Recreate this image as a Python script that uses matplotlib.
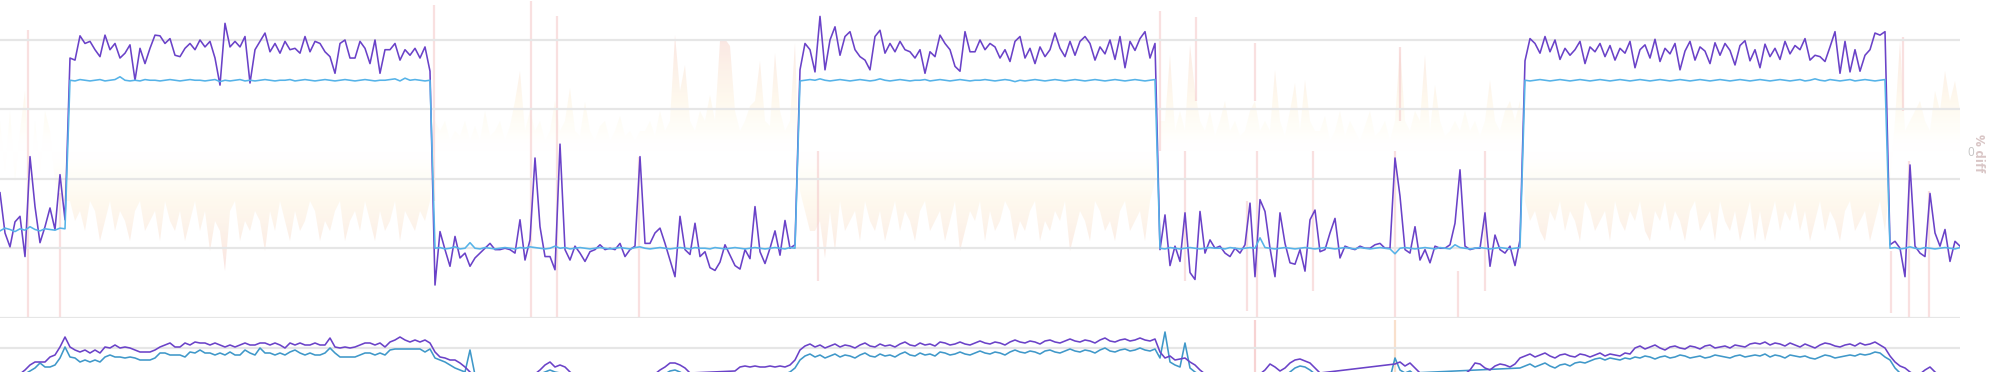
import numpy as np
import matplotlib.pyplot as plt
from matplotlib.colors import LinearSegmentedColormap

plt.rcParams['font.family'] = ['Open Sans', 'DejaVu Sans']

# one sample every ~5 px of the reference (393 samples)
# top panel: measured value (purple) and expected level (blue)
actual = [
    180, 122, 102, 138, 146, 88, 232, 160, 108, 131, 158, 127, 206, 141,
    374, 371, 406, 395, 398, 386, 376, 407, 386, 395, 374, 381, 393, 342, 388, 366, 388, 407, 406, 395,
    402, 378, 376, 388, 395, 386, 400, 390, 398, 374, 335, 424, 390, 398, 390, 405, 338, 386, 398, 410,
    383, 395, 381, 398, 386, 388, 381, 405, 383, 398, 395, 383, 376, 352, 395, 400, 374, 374, 398, 388,
    366, 400, 352, 386, 386, 395, 371, 386, 378, 388, 374, 390, 355,
    47, 124, 98, 74, 117, 86, 93, 74, 86, 93, 100, 107, 98, 98, 100, 98, 93, 141, 83, 112,
    230, 131, 88, 88, 69, 250, 98, 83, 103, 93, 81, 95, 98, 105, 98, 100, 98, 107, 88, 98,
    103, 232, 107, 107, 122, 129, 107, 83, 59, 146, 98, 91, 136, 88, 95, 72, 68, 80, 105, 90,
    75, 70, 98, 85, 160, 95, 78, 100, 125, 90, 140, 100, 105,
    357, 395, 386, 354, 434, 357, 400, 419, 378, 405, 412, 386, 376, 371, 357, 405, 414, 381, 395, 383,
    398, 386, 383, 374, 386, 352, 383, 376, 407, 395, 386, 362, 355, 412, 383, 383, 400, 386, 395, 390,
    374, 386, 369, 398, 405, 374, 388, 366, 390, 376, 386, 410, 388, 376, 398, 378, 398, 405, 395, 371,
    390, 380, 400, 372, 405, 360, 398, 385, 402, 412, 374, 395,
    98, 148, 75, 103, 81, 151, 65, 55, 153, 93, 112, 100, 103, 93, 88, 100, 93, 105, 165, 59,
    170, 153, 100, 59, 151, 107, 79, 77, 98, 67, 141, 155, 95, 98, 122, 143, 86, 103, 100, 98,
    103, 100, 100, 105, 107, 100, 100, 230, 175, 98, 93, 131, 83, 98, 79, 103, 100, 100, 105, 136,
    213, 103, 98, 100, 100, 151, 74, 119, 98, 93, 103, 75, 112,
    370, 402, 395, 381, 405, 383, 400, 372, 388, 378, 386, 398, 366, 390, 383, 395, 376, 392, 371, 388,
    381, 398, 360, 386, 393, 374, 401, 369, 388, 380, 395, 357, 384, 398, 371, 390, 384, 366, 396, 378,
    395, 385, 364, 392, 399, 370, 386, 360, 394, 376, 388, 372, 398, 380, 392,
    386, 402, 371, 378, 376, 369, 390, 412, 352, 398, 354, 386, 355, 378, 386, 410, 407, 412,
    105, 110, 100, 59, 220, 103, 93, 88, 179, 122, 103, 127, 81, 110, 103,
]

expected = [
    125, 129, 127, 124, 128, 126, 131, 127, 125, 128, 127, 126, 129, 128,
    342, 341, 343, 342, 341, 342, 343, 341, 342, 343, 347, 342, 341, 342, 341, 343, 342, 342, 341, 342,
    343, 342, 341, 342, 343, 342, 342, 341, 342, 343, 340, 342, 341, 342, 343, 341, 342, 341, 342, 343,
    342, 341, 342, 342, 343, 341, 342, 343, 342, 341, 342, 343, 342, 341, 342, 343, 342, 341, 342, 343,
    342, 341, 342, 342, 343, 344, 341, 345, 342, 343, 342, 341, 342,
    100, 101, 99, 100, 102, 99, 100, 108, 100, 99, 101, 100, 99, 100, 101, 100, 99, 101, 100, 102,
    101, 100, 99, 100, 103, 100, 101, 99, 100, 101, 100, 99, 100, 101, 100, 99, 100, 101, 100, 99,
    101, 102, 100, 99, 100, 101, 100, 99, 100, 101, 100, 99, 101, 100, 100, 99, 101, 100, 99, 100,
    101, 100, 99, 100, 101, 100, 99, 100, 101, 100, 99, 101, 100,
    341, 342, 343, 342, 344, 342, 341, 342, 343, 342, 341, 342, 343, 342, 341, 342, 344, 342, 341, 342,
    343, 342, 341, 342, 342, 343, 341, 342, 343, 342, 341, 342, 343, 342, 341, 342, 342, 343, 342, 341,
    342, 343, 342, 340, 342, 341, 342, 343, 342, 341, 342, 343, 342, 341, 342, 343, 342, 341, 342, 343,
    342, 341, 342, 343, 342, 341, 342, 343, 342, 341, 342, 343,
    100, 99, 101, 100, 99, 100, 101, 100, 99, 100, 101, 100, 100, 99, 101, 100, 99, 100, 101, 100,
    115, 101, 100, 99, 100, 101, 100, 99, 100, 101, 100, 99, 100, 101, 100, 99, 100, 101, 100, 99,
    101, 100, 99, 100, 101, 100, 99, 92, 100, 101, 100, 99, 100, 101, 100, 99, 101, 100, 99, 105,
    101, 100, 99, 100, 101, 100, 99, 100, 101, 100, 99, 100, 101,
    342, 341, 342, 343, 342, 341, 342, 343, 342, 341, 342, 343, 342, 341, 342, 343, 342, 341, 342, 343,
    342, 341, 342, 343, 342, 341, 342, 343, 342, 341, 342, 343, 342, 341, 342, 343, 342, 341, 342, 343,
    342, 341, 342, 343, 342, 341, 342, 343, 342, 341, 342, 343, 342, 341, 342, 343,
    341, 342, 344, 342, 341, 343, 342, 341, 342, 343, 341, 342, 343, 342, 341, 342, 343,
    100, 101, 99, 100, 102, 100, 99, 101, 100, 99, 100, 101, 100, 99, 101,
]

# right axis: % diff (area)
pct_diff = [
    3, -2, 4, -3, 2, 6, -4, 3, -2, 4, 2, -3, -5, -5,
    -5, -7, -6, -8, -5, -6, -9, -7, -5, -8, -6, -7, -9, -6, -5, -8, -7, -6, -9, -5,
    -7, -8, -6, -9, -7, -5, -8, -6, -10, -7, -8, -12, -6, -5, -9, -7, -8, -6, -7, -10,
    -6, -8, -5, -7, -9, -6, -8, -7, -5, -6, -9, -7, -8, -6, -5, -9, -7, -6, -8, -5,
    -7, -9, -6, -8, -7, -5, -9, -6, -7, -8, -6, -7, -5,
    3, 2, 3, 1, 2, 1.5, 3, 1, 2.5, 1, 4, 1.5, 2, 3, 1, 2.5, 5, 8, 2, 4,
    2, 3, 1, 2, 5, 2, 3, 6.3, 2, 1.5, 4.9, 2, 1, 2.5, 3, 1, 2, 3.5, 1.5, 2,
    1, 2, 2, 3, 1.5, 4, 2, 3, 11.6, 6, 8.6, 3, 2, 4, 3, 5.6, 3, 11, 11.2, 10.5,
    4, 2, 3, 4.5, 5, 9, 3, 2.5, 9.8, 4, 2, 3, 10.8,
    -4, -6, -8, -8, -7, -10.7, -6, -10, -5, -8, -7, -6, -9, -5, -7, -8, -6, -9, -7, -5,
    -8, -6, -7, -9, -6, -5, -8, -7, -6, -9, -7, -5, -10, -8, -6, -7, -5, -9, -6, -8,
    -7, -5, -6, -9, -7, -8, -6, -5, -9, -7, -8, -6, -7, -5, -10, -8, -6, -7, -9, -5,
    -6, -8, -7, -9, -6, -5, -8, -7, -6, -9, -5, -3,
    3, 3, 9.6, 2, 4, 2, 10.6, 6, 3, 2, 4, 1.5, 3, 5, 2, 3, 1.5, 2, 4, 5,
    2, 3, 2, 8.1, 3, 1.5, 4, 6.8, 2, 7.1, 3, 2, 2, 3.5, 1, 2, 4, 1.5, 3, 2,
    1, 2.5, 4, 1.5, 2, 3, 1, 3, 10.4, 3, 2, 4, 3, 9.6, 2, 6.6, 3, 1.5, 2, 3,
    2, 4, 2, 3, 1.5, 3, 7.1, 3, 2, 4, 5, 3, 5,
    -5, -7, -6, -8, -9, -6, -7, -5, -8, -6, -7, -9, -5, -6, -8, -7, -6, -9, -5, -7,
    -8, -6, -7, -5, -8, -9, -6, -7, -5, -8, -6, -7, -9, -6, -5, -8, -7, -6, -9, -5,
    -7, -8, -6, -9, -7, -5, -9, -6, -9, -7, -5, -8, -6, -7, -5, -8, -6, -9, -7, -5,
    -8, -6, -7, -9, -6, -5, -8, -7, -6, -9, -7, -5, -8,
    -3, 3, 11, 2, 3, 4, 5, 3, 2, 6, 4, 8, 5, 7, 4,
]

# large % diff outliers, drawn as thin bars (sample index, top, bottom)
spike_idx = [5.6, 12, 86.8, 106.2, 111.4, 127.8, 163.6, 232, 237, 239.2,
             249.4, 251, 251.4, 262.6, 279, 280, 291.6, 297, 378.2, 380.6,
             381.8, 385.8]
spike_hi = [12.1, -4.2, 14.6, 15, 13.5, -0.6, 0, 14, 0, 13.4,
            -5, 10.8, 0, 0, 0, 10.4, -12, 0, -10, 11.4,
            -1, -4]
spike_lo = [-16.6, -16.6, -5, -16.6, -16.6, -16.6, -13, 0, -13, 5,
            -16, 5, -16.6, -14, -16.6, 3, -16.6, -14, -16.2, 4,
            -16.6, -16.6]

# lower panel
lower_actual = [
    38, 40, 42, 44, 46, 50, 55, 58, 58, 58, 63, 65, 73, 83,
    73, 70, 68, 70, 67, 70, 67, 73, 72, 75, 72, 73, 72, 70, 68, 68, 68, 70, 73, 75,
    77, 73, 73, 77, 75, 78, 77, 77, 75, 77, 75, 73, 75, 73, 75, 77, 75, 75, 77, 77,
    75, 77, 75, 72, 77, 75, 77, 75, 75, 77, 75, 75, 82, 73, 72, 73, 72, 73, 75, 77,
    77, 75, 77, 73, 78, 80, 83, 80, 78, 80, 78, 80, 77,
    68, 63, 62, 60, 60, 57, 53, 48, 44, 42, 40, 38, 37, 36, 38, 40, 39, 37, 41, 44,
    46, 50, 55, 58, 53, 55, 53, 48, 44, 41, 39, 38, 37, 38, 40, 39, 38, 37, 36, 38,
    40, 42, 41, 43, 46, 50, 53, 57, 57, 55, 52, 47, 43, 41, 40, 39, 41, 43, 45, 47,
    49, 53, 54, 53, 54, 53, 53, 54, 53, 54, 53, 55, 60,
    70, 74, 76, 73, 75, 72, 74, 76, 73, 75, 74, 72, 75, 77, 74, 73, 76, 74, 75, 73,
    76, 78, 75, 74, 77, 75, 76, 74, 78, 77, 75, 76, 78, 76, 75, 77, 79, 77, 76, 78,
    77, 75, 78, 80, 78, 77, 79, 78, 76, 79, 80, 78, 77, 79, 81, 79, 78, 80, 79, 77,
    80, 82, 79, 78, 80, 81, 79, 80, 82, 80, 79, 81,
    68, 62, 64, 60, 61, 62, 58, 55, 50, 46, 43, 41, 40, 38, 37, 36, 37, 38, 36, 42,
    46, 50, 56, 53, 49, 52, 57, 60, 61, 59, 57, 52, 47, 44, 42, 40, 39, 38, 37, 36,
    37, 38, 39, 40, 42, 44, 47, 56, 58, 54, 57, 52, 47, 44, 42, 40, 39, 38, 39, 41,
    43, 46, 50, 57, 56, 52, 50, 54, 56, 55, 53, 56, 62,
    64, 66, 63, 65, 67, 64, 62, 65, 66, 64, 63, 66, 65, 63, 65, 67, 64, 66, 65, 64,
    67, 66, 72, 74, 71, 73, 75, 72, 70, 73, 74, 72, 71, 74, 73, 71, 74, 75, 72, 73,
    74, 72, 75, 74, 73, 76, 77, 76, 78, 75, 77, 76, 74, 77, 75, 73, 76, 74, 72, 75,
    77, 76, 74, 73, 75, 76, 74, 77, 75, 76, 78, 75, 72,
    64, 58, 54, 52, 48, 45, 46, 50, 53, 48, 44, 42, 41, 40, 40,
]

lower_expected = [
    35, 37, 39, 41, 43, 46, 49, 52, 57, 53, 53, 55, 62, 73,
    63, 62, 58, 60, 58, 60, 58, 63, 65, 63, 63, 62, 63, 62, 60, 60, 60, 62, 67, 67,
    65, 65, 65, 63, 68, 67, 70, 67, 67, 65, 67, 65, 68, 65, 65, 70, 67, 65, 72, 67,
    67, 65, 67, 65, 68, 70, 67, 65, 67, 65, 65, 67, 72, 67, 63, 63, 63, 63, 65, 67,
    67, 65, 67, 65, 70, 71, 71, 71, 71, 71, 71, 68, 71,
    62, 60, 58, 55, 52, 50, 48, 70, 45, 42, 40, 38, 36, 35, 34, 35, 36, 38, 40, 42,
    44, 46, 48, 50, 48, 47, 44, 42, 40, 38, 36, 35, 34, 35, 36, 35, 34, 33, 34, 35,
    36, 37, 38, 40, 42, 44, 46, 49, 50, 48, 45, 42, 40, 38, 37, 36, 37, 39, 41, 43,
    44, 45, 46, 45, 46, 47, 46, 45, 46, 47, 46, 48, 52,
    60, 64, 66, 63, 65, 62, 64, 66, 63, 65, 64, 62, 65, 67, 64, 63, 66, 64, 65, 63,
    66, 68, 65, 64, 67, 65, 66, 64, 68, 67, 65, 66, 68, 66, 65, 67, 69, 67, 66, 68,
    67, 65, 68, 70, 68, 67, 69, 68, 66, 69, 70, 68, 67, 69, 71, 69, 68, 70, 69, 67,
    70, 72, 69, 68, 70, 71, 69, 70, 72, 70, 69, 71,
    62, 88, 58, 55, 53, 77, 52, 48, 45, 42, 40, 38, 37, 36, 35, 34, 35, 36, 35, 37,
    40, 44, 47, 45, 42, 44, 48, 52, 54, 53, 50, 46, 42, 39, 37, 36, 35, 34, 33, 34,
    35, 34, 33, 34, 36, 38, 42, 62, 50, 47, 49, 45, 41, 38, 36, 35, 34, 33, 34, 36,
    38, 40, 43, 47, 46, 44, 42, 45, 47, 46, 45, 47, 52,
    54, 56, 53, 55, 57, 54, 52, 55, 56, 54, 57, 58, 57, 59, 61, 62, 60, 62, 61, 60,
    62, 61, 63, 62, 64, 63, 61, 63, 64, 62, 63, 65, 64, 62, 63, 64, 62, 63, 65, 64,
    63, 62, 64, 65, 63, 64, 65, 64, 66, 63, 65, 64, 62, 65, 64, 63, 64, 62, 61, 63,
    65, 64, 62, 63, 64, 65, 64, 66, 65, 66, 68, 67, 63,
    60, 52, 47, 44, 42, 40, 39, 40, 41, 40, 38, 37, 36, 36, 35,
]

# faint diff marks in the lower panel (sample index)
lower_spikes = [251, 279]
lower_spike_colors = ['#f7d3d3', '#f9e0cc']

n = len(actual)
for name, series in [('expected', expected), ('pct_diff', pct_diff),
                     ('lower_actual', lower_actual), ('lower_expected', lower_expected)]:
    if len(series) != n:
        raise ValueError(f'{name}: {len(series)} != {n}')

t = np.arange(n)
purple = '#6a42c8'
light_blue = '#56b3e8'
grid_c = '#e6e6e6'

fig = plt.figure(figsize=(20, 3.72), dpi=100)

# ---- top panel
ax = fig.add_axes([0, 1 - 318 / 372, 0.98, 318 / 372])
ax2 = ax.twinx()
ax.set_zorder(ax2.get_zorder() + 1)
ax.patch.set_visible(False)

lo, hi = -16.7, 15.1
diff_cmap = LinearSegmentedColormap.from_list('diff', [
    (0.0, (1.0, 1.0, 1.0, 0.0)),
    (0.15, (1.0, 0.985, 0.92, 0.3)),
    (0.35, (0.995, 0.95, 0.86, 0.45)),
    (0.6, (0.985, 0.9, 0.84, 0.55)),
    (1.0, (0.965, 0.79, 0.79, 0.65)),
])
levels = np.linspace(lo, hi, 400)
grad = diff_cmap(np.clip(np.abs(levels) / 14, 0, 1))[:, None, :]
im = ax2.imshow(grad, aspect='auto', origin='lower', extent=[0, n - 1, lo, hi],
                interpolation='bilinear', zorder=1)
area = ax2.fill_between(t, 0, pct_diff, facecolor='none', edgecolor='none')
im.set_clip_path(area.get_paths()[0], transform=ax2.transData)
ax2.vlines(spike_idx, spike_lo, spike_hi, colors='#f5cccc', lw=1.6, alpha=0.6, zorder=2)
ax2.set_xlim(0, n - 1)
ax2.set_ylim(lo, hi)
ax2.set_yticks([0])
ax2.tick_params(axis='y', length=0, pad=5, labelsize=8.5, labelcolor='#c4c4c4')
ax2.set_ylabel('% diff', rotation=270, color='#d9c6c6', fontsize=9.5, fontweight='bold')
ax2.yaxis.set_label_coords(1.0128, 0.52)

ax.plot(t, actual, color=purple, lw=1.15, zorder=3)
ax.plot(t, expected, color=light_blue, lw=1.15, zorder=4)
ax.set_xlim(0, n - 1)
ax.set_ylim(-0.5, 457.6)
ax.set_yticks([0, 100, 200, 300, 400])
ax.set_yticklabels([])
ax.set_xticks([])
ax.tick_params(length=0)
ax.grid(axis='y', color=grid_c, lw=1.6)

for a in (ax, ax2):
    for s in a.spines.values():
        s.set_visible(False)

# ---- lower panel (cut off by the figure edge)
ax3 = fig.add_axes([0, (372 - 420) / 372, 0.98, 100 / 372])
ax3.vlines(lower_spikes, 0, 100, colors=lower_spike_colors, lw=1.6, zorder=1)
ax3.plot(t, lower_actual, color=purple, lw=1.15, zorder=3)
ax3.plot(t, lower_expected, color='#3f98c9', lw=1.15, zorder=2)
ax3.set_xlim(0, n - 1)
ax3.set_ylim(0, 100)
ax3.set_yticks([72])
ax3.set_yticklabels([])
ax3.set_xticks([])
ax3.tick_params(length=0)
ax3.grid(axis='y', color=grid_c, lw=1.6)
for s in ax3.spines.values():
    s.set_visible(False)

fig.savefig('out.png', dpi=100)
